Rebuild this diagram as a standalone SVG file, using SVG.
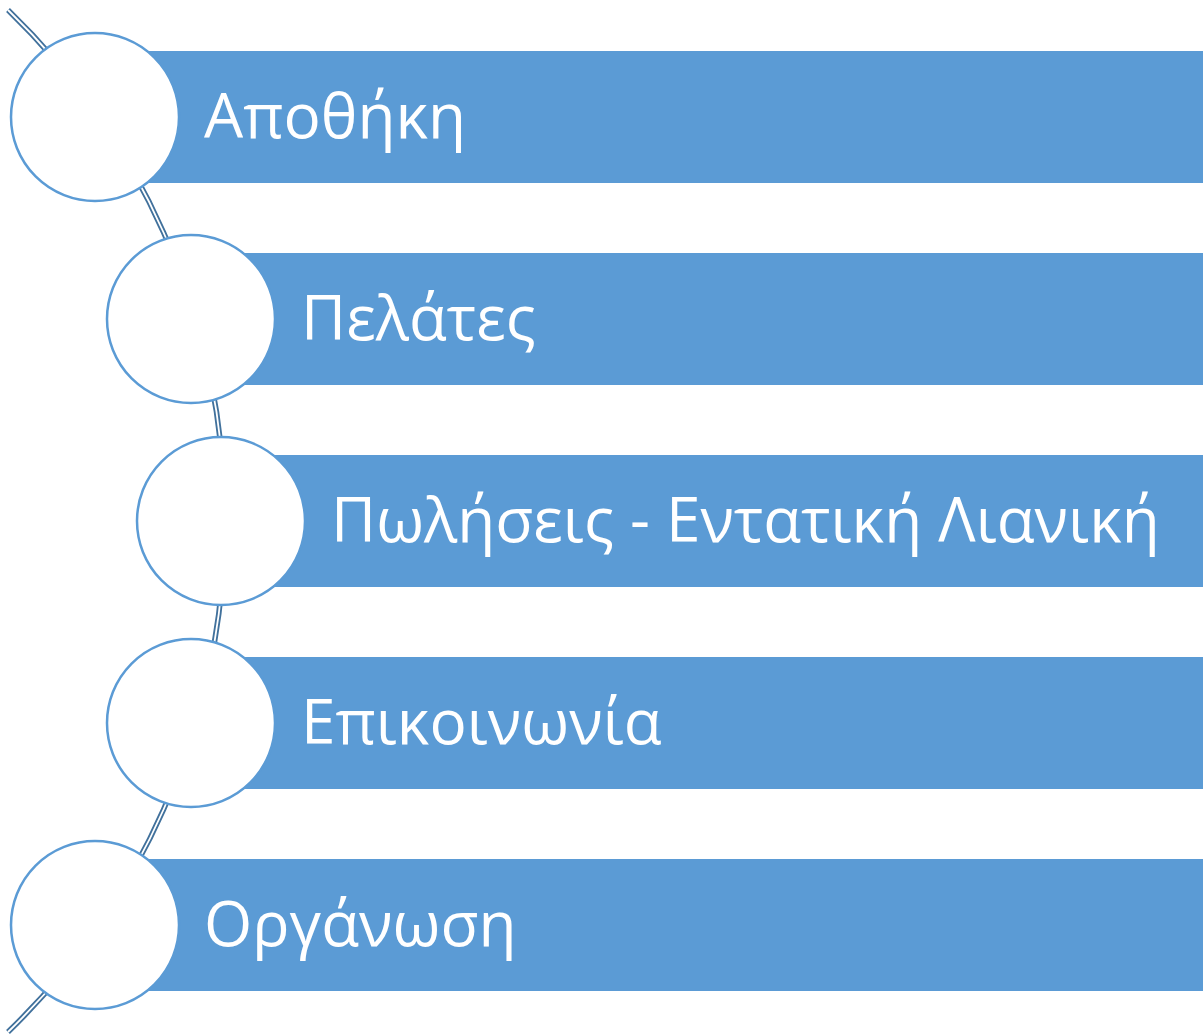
<svg xmlns="http://www.w3.org/2000/svg" width="1203" height="1034" viewBox="0 0 1203 1034">
<style>
.bar{fill:#5B9BD5}
.node circle{fill:#FFFFFF;stroke:#5B9BD5;stroke-width:2.5}
.lbl{fill:#FFFFFF;font-family:"Open Sans","Noto Sans","DejaVu Sans",sans-serif;font-size:62px}
.arcO{fill:none;stroke:#41719C;stroke-width:5.5}
.arcI{fill:none;stroke:#FFFFFF;stroke-width:1.8}
</style>
<rect width="1203" height="1034" fill="#FFFFFF"/>
<g id="bars">
<rect class="bar" x="95" y="51" width="1108" height="132"/>
<rect class="bar" x="191" y="253" width="1012" height="132"/>
<rect class="bar" x="221" y="455" width="982" height="132"/>
<rect class="bar" x="191" y="657" width="1012" height="132"/>
<rect class="bar" x="95" y="859" width="1108" height="132"/>
</g>
<g id="connectors">
<path class="arcO" d="M 8,10 A 710.7 710.7 0 0 1 8,1032"/>
<path class="arcI" d="M 8,10 A 710.7 710.7 0 0 1 8,1032"/>
</g>
<g id="node1" class="node"><circle cx="95" cy="117" r="84"/><text class="lbl" x="204" y="138">Αποθήκη</text></g>
<g id="node2" class="node"><circle cx="191" cy="319" r="84"/><text class="lbl" x="301" y="340">Πελάτες</text></g>
<g id="node3" class="node"><circle cx="221" cy="521" r="84"/><text class="lbl" x="331" y="542">Πωλήσεις - Εντατική Λιανική</text></g>
<g id="node4" class="node"><circle cx="191" cy="723" r="84"/><text class="lbl" x="301" y="744">Επικοινωνία</text></g>
<g id="node5" class="node"><circle cx="95" cy="925" r="84"/><text class="lbl" x="204" y="946">Οργάνωση</text></g>
</svg>
